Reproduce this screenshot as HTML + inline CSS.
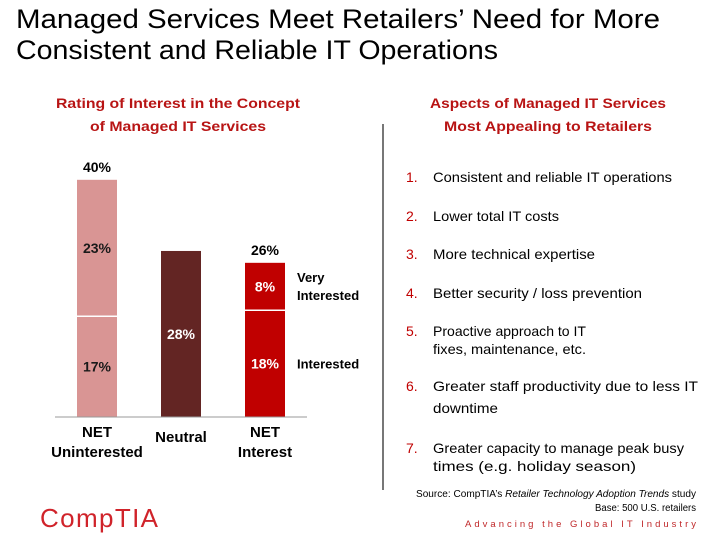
<!DOCTYPE html>
<html><head><meta charset="utf-8"><style>
html,body{margin:0;padding:0;background:#fff;}
svg{display:block;font-family:"Liberation Sans",sans-serif;}
</style></head><body>
<svg id="s" width="728" height="546" viewBox="0 0 728 546" xmlns="http://www.w3.org/2000/svg">
<text x="16" y="28" font-size="27" fill="#000" textLength="644" lengthAdjust="spacingAndGlyphs">Managed Services Meet Retailers’ Need for More</text>
<text x="16" y="59" font-size="27" fill="#000" textLength="482" lengthAdjust="spacingAndGlyphs">Consistent and Reliable IT Operations</text>
<g fill="#b81414" font-weight="bold" font-size="14" text-anchor="middle">
<text x="178" y="108" textLength="244" lengthAdjust="spacingAndGlyphs">Rating of Interest in the Concept</text>
<text x="178" y="131" textLength="176" lengthAdjust="spacingAndGlyphs">of Managed IT Services</text>
<text x="548" y="108" textLength="236" lengthAdjust="spacingAndGlyphs">Aspects of Managed IT Services</text>
<text x="548" y="131" textLength="208" lengthAdjust="spacingAndGlyphs">Most Appealing to Retailers</text>
</g>
<g id="chart"></g>
<line x1="383" y1="124" x2="383" y2="490" stroke="#777" stroke-width="2"/>
<g font-size="14" fill="#000">
<g fill="#c00000"><text x="406" y="182">1.</text><text x="406" y="221">2.</text><text x="406" y="259">3.</text><text x="406" y="298">4.</text><text x="406" y="336">5.</text><text x="406" y="391">6.</text><text x="406" y="453">7.</text></g>
<text x="433" y="182" textLength="239" lengthAdjust="spacingAndGlyphs">Consistent and reliable IT operations</text>
<text x="433" y="221" textLength="126" lengthAdjust="spacingAndGlyphs">Lower total IT costs</text>
<text x="433" y="259" textLength="162" lengthAdjust="spacingAndGlyphs">More technical expertise</text>
<text x="433" y="298" textLength="209" lengthAdjust="spacingAndGlyphs">Better security / loss prevention</text>
<text x="433" y="336" textLength="153" lengthAdjust="spacingAndGlyphs">Proactive approach to IT</text>
<text x="433" y="354" textLength="153" lengthAdjust="spacingAndGlyphs">fixes, maintenance, etc.</text>
<text x="433" y="391" textLength="265" lengthAdjust="spacingAndGlyphs">Greater staff productivity due to less IT</text>
<text x="433" y="413" textLength="65" lengthAdjust="spacingAndGlyphs">downtime</text>
<text x="433" y="453" textLength="251" lengthAdjust="spacingAndGlyphs">Greater capacity to manage peak busy</text>
<text x="433" y="471" textLength="203" lengthAdjust="spacingAndGlyphs">times (e.g. holiday season)</text>
</g>
<g font-size="10" fill="#000" text-anchor="end">
<text x="696" y="497" textLength="280" lengthAdjust="spacingAndGlyphs">Source: CompTIA’s <tspan font-style="italic">Retailer Technology Adoption Trends</tspan> study</text>
<text x="696" y="511" textLength="101" lengthAdjust="spacingAndGlyphs">Base: 500 U.S. retailers</text>
</g>
<text x="465" y="527" font-size="9.5" fill="#c0282a" textLength="231" lengthAdjust="spacing">Advancing the Global IT Industry</text>
<text x="40" y="527" font-size="26" fill="#d0232a" textLength="118" lengthAdjust="spacing">CompTIA</text>
</svg>
<script>
const categories=["NET Uninterested","Neutral","NET Interest"];
const lowerValues=[17,28,18];
const upperValues=[23,0,8];
const totalLabels=["40%","","26%"];
const NS="http://www.w3.org/2000/svg";
const g=document.getElementById('chart');
const base=417, scale=5.93, x0=77, step=84, bw=40;
function yS(v){return base-v*scale;}
function xS(i){return x0+i*step;}
function mk(t,a,p){const e=document.createElementNS(NS,t);for(const k in a)e.setAttribute(k,a[k]);(p||g).appendChild(e);return e;}
const lowColors=["#d99594","#632523","#c00000"];
const upColors=["#d99594","#632523","#c00000"];
const lowText=["#1a1a1a","#fff","#fff"];
for(let i=0;i<categories.length;i++){
  const x=xS(i), lo=lowerValues[i], up=upperValues[i];
  const r=mk('rect',{x:x,y:yS(lo),width:bw,height:lo*scale,fill:lowColors[i]});
  
  
  const t=mk('text',{x:x+bw/2,y:(yS(lo)+base)/2+5,'text-anchor':'middle','font-size':14,'font-weight':'bold',fill:lowText[i]});
  t.textContent=lo+'%';
  
  
  if(up>0){
    const r2=mk('rect',{x:x,y:yS(lo+up),width:bw,height:up*scale,fill:upColors[i]});
    
    
    mk('line',{x1:x,x2:x+bw,y1:yS(lo),y2:yS(lo),stroke:'#fff','stroke-width':1.5});
    const t2=mk('text',{x:x+bw/2,y:(yS(lo+up)+yS(lo))/2+5,'text-anchor':'middle','font-size':14,'font-weight':'bold',fill:lowText[i]});
    t2.textContent=up+'%';
    
    
  }
  if(totalLabels[i]){
    const t3=mk('text',{x:x+bw/2,y:yS(lo+up)-8,'text-anchor':'middle','font-size':14,'font-weight':'bold',fill:'#000'});
    t3.textContent=totalLabels[i];
    
    
  }
}
const ax=mk('line',{x1:55,x2:307,y1:base,y2:base,stroke:'#999','stroke-width':1});


const catLines=[["NET","Uninterested"],["Neutral"],["NET","Interest"]];
for(let i=0;i<categories.length;i++){
  const lines=catLines[i];
  const y0=lines.length===1?base+25:base+20;
  lines.forEach((s,j)=>{
    const t=mk('text',{x:xS(i)+bw/2,y:y0+j*20,'text-anchor':'middle','font-size':15,'font-weight':'bold',fill:'#000'});
    t.textContent=s;
    
    
  });
}
const lx=xS(2)+bw+12;
[["Very",yS(26)+19],["Interested",yS(26)+37],["Interested",(yS(18)+base)/2+5]].forEach(([s,y])=>{
  const t=mk('text',{x:lx,y:y,'font-size':13,'font-weight':'bold',fill:'#000'});
  t.textContent=s;
  
  
});
</script>
</body></html>
